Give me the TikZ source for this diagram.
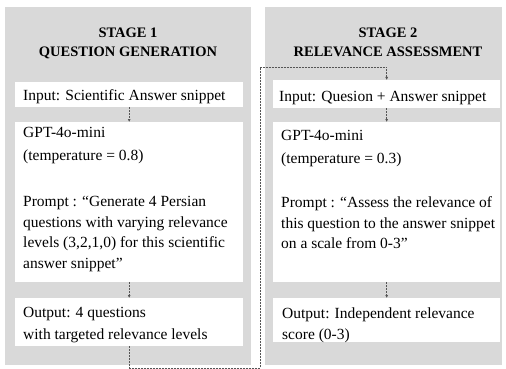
\documentclass[tikz,border=0pt]{standalone}
\usepackage{fontspec}
\setmainfont{Liberation Serif}
\usetikzlibrary{arrows.meta}
\definecolor{panelgray}{RGB}{217,217,217}
\definecolor{linkgray}{RGB}{85,85,85}
\tikzset{
  panel/.style={fill=panelgray, anchor=north west, inner sep=0pt},
  box/.style={fill=white, anchor=north west, inner sep=0pt},
  boxtext/.style={anchor=north west, inner sep=0pt, align=left,
    font=\fontsize{15.5}{20.8}\selectfont},
  title/.style={anchor=north, inner sep=0pt, align=center,
    font=\fontsize{14.5}{20}\selectfont\bfseries},
  link/.style={draw=linkgray, line width=0.7pt, dash pattern=on 2pt off 1pt,
    -{Latex[length=3pt,width=3pt]}}
}
\begin{document}
\begin{tikzpicture}[x=1pt,y=-1pt]
  \useasboundingbox (0,0) rectangle (506,369);
  % panels and titles
  \node[panel, minimum width=246pt, minimum height=358pt] (stage1) at (5,7) {};
  \node[panel, minimum width=237pt, minimum height=358pt] (stage2) at (265,7) {};
  \node[title] (title1) at (128,27.2) {STAGE 1\\QUESTION GENERATION};
  \node[title] (title2) at (388,27.2) {STAGE 2\\RELEVANCE ASSESSMENT};
  % stage 1
  \node[box, minimum width=228pt, minimum height=25pt] (in1) at (15,82) {};
  \node[box, minimum width=228pt, minimum height=160pt] (gpt1) at (15,122) {};
  \node[box, minimum width=228pt, minimum height=48pt] (out1) at (15,298) {};
  \node[boxtext] (in1text) at (23,89.5) {Input: Scientific Answer snippet};
  \node[boxtext] (gpt1text) at (23,127.4) {GPT-4o-mini\\[2pt]
    (temperature = 0.8)\\[2pt] \\[2pt]
    Prompt : “Generate 4 Persian\\
    questions with varying relevance\\
    levels (3,2,1,0) for this scientific\\
    answer snippet”};
  \node[boxtext] (out1text) at (23,307.5) {Output: 4 questions\\[1pt]
    with targeted relevance levels};
  % stage 2
  \node[box, minimum width=227pt, minimum height=28pt] (in2) at (273,80) {};
  \node[box, minimum width=227pt, minimum height=160pt] (gpt2) at (273,122) {};
  \node[box, minimum width=227pt, minimum height=44pt] (out2) at (273,298) {};
  \node[boxtext] (in2text) at (279,91.5) {Input: Quesion + Answer snippet};
  \node[boxtext] (gpt2text) at (281,130.4) {GPT-4o-mini\\[2pt]
    (temperature = 0.3)\\[2pt] \\
    Prompt : “Assess the relevance of\\
    this question to the answer snippet\\
    on a scale from 0-3”};
  \node[boxtext] (out2text) at (282,307.4) {Output: Independent relevance\\
    score (0-3)};
  % links
  \begin{scope}[link]
    \draw (in1) to (gpt1);
    \draw (gpt1) to (out1);
    \draw (in2) to (gpt2);
    \draw (gpt2) to (out2);
    \coordinate (low) at (260,368);
    \coordinate (high) at (260,67);
    \draw (out1.south) |- (low) -- (high) -| (in2.north);
  \end{scope}
\end{tikzpicture}
\end{document}
